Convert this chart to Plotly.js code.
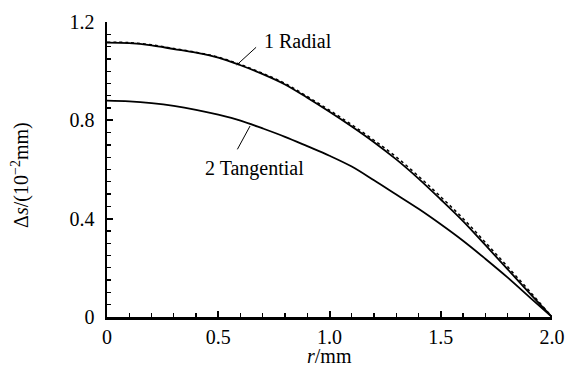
<!DOCTYPE html>
<html>
<head>
<meta charset="utf-8">
<script src="https://cdn.plot.ly/plotly-3.0.1.min.js"></script>
<style>html,body{margin:0;padding:0;background:#fff;}#chart{width:566px;height:367px;}</style>
</head>
<body>
<div id="chart"></div>
<script>
const radius = [0,0.1,0.2,0.3,0.4,0.5,0.6,0.7,0.8,0.9,1.0,1.1,1.2,1.3,1.4,1.5,1.6,1.7,1.8,1.9,2.0];
const radial = [1.116,1.114,1.105,1.090,1.075,1.055,1.024,0.988,0.946,0.892,0.835,0.775,0.711,0.641,0.563,0.478,0.390,0.293,0.195,0.096,0.0];
const radialDotted = [1.118,1.116,1.107,1.092,1.077,1.057,1.027,0.991,0.950,0.897,0.841,0.782,0.719,0.651,0.573,0.489,0.401,0.304,0.205,0.104,0.0];
const tangential = [0.880,0.877,0.870,0.859,0.843,0.823,0.799,0.767,0.733,0.695,0.656,0.612,0.556,0.498,0.440,0.377,0.310,0.237,0.161,0.080,0.0];
const xTickVals = [0,0.5,1.0,1.5,2.0];
const xTickText = ['0','0.5','1.0','1.5','2.0'];
const yTickVals = [0,0.4,0.8,1.2];
const yTickText = ['0','0.4','0.8','1.2'];
const xTitle = '<i>r</i>/mm';
const yTitle = 'Δ<i>s</i>/(10<sup>−2</sup>mm)';

const FONT = 'Liberation Serif, serif';
const FS = 20;

const traces = [
  {x: radius, y: radialDotted, mode:'lines', line:{color:'#000', width:1.5, dash:'dot', shape:'spline', smoothing:1, simplify:false}, hoverinfo:'skip'},
  {x: radius, y: radial, mode:'lines', line:{color:'#000', width:1.8, shape:'spline', smoothing:1, simplify:false}},
  {x: radius, y: tangential, mode:'lines', line:{color:'#000', width:1.8, shape:'spline', smoothing:1, simplify:false}}
];

const layout = {
  width:566, height:367,
  margin:{l:107, r:14, t:22, b:50},
  paper_bgcolor:'#fff', plot_bgcolor:'#fff',
  showlegend:false,
  font:{family:FONT, size:FS, color:'#000'},
  xaxis:{
    range:[0,2.0], showgrid:false, zeroline:false,
    showline:true, linecolor:'#000', linewidth:2.5,
    ticks:'inside', ticklen:6, tickwidth:2, tickcolor:'#000',
    tickvals:xTickVals, ticktext:xTickText,
    minor:{dtick:0.1, ticks:'inside', ticklen:4, tickwidth:1.3, tickcolor:'#000'},
    tickfont:{family:FONT, size:FS}, ticklabelstandoff:0
  },
  yaxis:{
    range:[0,1.2], showgrid:false, zeroline:false,
    showline:true, linecolor:'#000', linewidth:2.5,
    ticks:'inside', ticklen:6, tickwidth:2, tickcolor:'#000',
    tickvals:yTickVals, ticktext:yTickText,
    minor:{dtick:0.05, ticks:'inside', ticklen:4, tickwidth:1.3, tickcolor:'#000'},
    tickfont:{family:FONT, size:FS}, ticklabelstandoff:6
  },
  shapes:[
    {type:'line', xref:'x', yref:'y', x0:0.583, y0:1.025, x1:0.670, y1:1.097, line:{color:'#000', width:1}},
    {type:'line', xref:'x', yref:'y', x0:0.586, y0:0.682, x1:0.643, y1:0.777, line:{color:'#000', width:1}}
  ],
  annotations:[
    {xref:'x', yref:'y', x:0.695, y:1.122, text:'1 Radial', showarrow:false, xanchor:'left', yanchor:'middle', font:{family:FONT, size:FS}},
    {xref:'x', yref:'y', x:0.661, y:0.606, text:'2 Tangential', showarrow:false, xanchor:'center', yanchor:'middle', font:{family:FONT, size:FS}},
    {xref:'paper', yref:'paper', x:0.5, y:-0.133, text:xTitle, showarrow:false, xanchor:'center', yanchor:'middle', font:{family:FONT, size:FS}},
    {xref:'paper', yref:'paper', x:-0.196, y:0.481, text:yTitle, showarrow:false, textangle:-90, xanchor:'center', yanchor:'middle', font:{family:FONT, size:FS}}
  ]
};

Plotly.newPlot('chart', traces, layout, {displayModeBar:false, staticPlot:true});
</script>
</body>
</html>
